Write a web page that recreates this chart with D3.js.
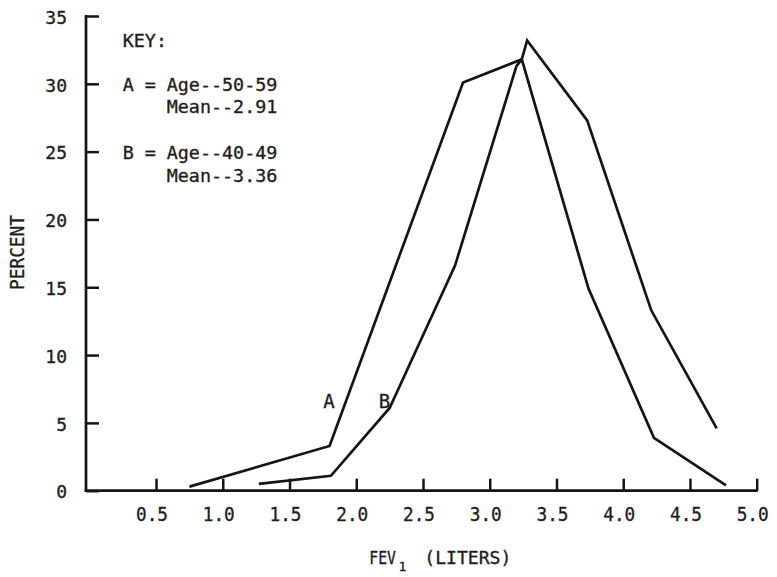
<!DOCTYPE html>
<html>
<head>
<meta charset="utf-8">
<script src="https://cdn.jsdelivr.net/npm/d3@7"></script>
<style>
  html, body { margin: 0; padding: 0; background: #ffffff; }
  svg { display: block; }
  text { fill: #1e1e1e; stroke: #1e1e1e; stroke-width: 0.35px; font-family: "DejaVu Sans Mono", monospace; }
</style>
</head>
<body>
<svg id="chart" width="777" height="577"></svg>
<script>
// FEV1 distribution by age group
const xTicks = [0.5, 1.0, 1.5, 2.0, 2.5, 3.0, 3.5, 4.0, 4.5, 5.0];
const yTicks = [0, 5, 10, 15, 20, 25, 30, 35];

// Curve A: Age 50-59
const fevA = [0.75, 1.8, 2.8, 3.24, 3.74, 4.23, 4.77];
const pctA = [0.3, 3.3, 30.1, 31.8, 14.9, 3.9, 0.4];

// Curve B: Age 40-49
const fevB = [1.27, 1.81, 2.25, 2.74, 3.2, 3.24, 3.28, 3.73, 4.21, 4.7];
const pctB = [0.5, 1.1, 6.1, 16.6, 31.3, 31.8, 33.2, 27.3, 13.3, 4.6];

const keyLines = [
  { tag: "KEY:", text: "" },
  { tag: "A = ", text: "Age--50-59" },
  { tag: "", text: "Mean--2.91" },
  { tag: "B = ", text: "Age--40-49" },
  { tag: "", text: "Mean--3.36" }
];

const svg = d3.select("#chart");
const ink = "#151515";

const x = d3.scaleLinear().domain([0, 5]).range([89.3, 756.7]);
const y = d3.scaleLinear().domain([0, 35]).range([490.7, 16]);
const axisX = 86;

// Axis frame lines
svg.append("line")
  .attr("x1", axisX).attr("x2", axisX)
  .attr("y1", y(35) - 1).attr("y2", y(0) + 1.3)
  .attr("stroke", ink).attr("stroke-width", 2.7);
svg.append("line")
  .attr("x1", axisX - 1.3).attr("x2", x(5) + 1)
  .attr("y1", y(0)).attr("y2", y(0))
  .attr("stroke", ink).attr("stroke-width", 2.7);

// Y axis ticks pointing inward
const gy = svg.append("g")
  .attr("transform", `translate(${axisX},0)`)
  .call(d3.axisLeft(y).tickValues(yTicks).tickSize(-13).tickPadding(19).tickFormat(d3.format("d")));
gy.select(".domain").remove();
gy.selectAll(".tick line").attr("stroke", ink).attr("stroke-width", 2.5);
gy.selectAll(".tick text")
  .attr("font-size", 18).attr("font-family", "DejaVu Sans Mono, monospace")
  .attr("fill", "#1e1e1e").attr("dy", "0.4em");

// X axis ticks pointing upward
const gx = svg.append("g")
  .attr("transform", `translate(0,${y(0)})`)
  .call(d3.axisBottom(x).tickValues(xTicks).tickSize(-12).tickPadding(16).tickFormat(d3.format(".1f")));
gx.select(".domain").remove();
gx.selectAll(".tick line").attr("stroke", ink).attr("stroke-width", 2.5);
gx.selectAll(".tick text")
  .attr("font-size", 20).attr("font-family", "DejaVu Sans Mono, monospace")
  .attr("fill", "#1e1e1e")
  .attr("x", -4.5)
  .attr("textLength", 32).attr("lengthAdjust", "spacingAndGlyphs");

// Curves
const line = d3.line().x(d => x(d[0])).y(d => y(d[1]));
const seriesA = fevA.map((v, i) => [v, pctA[i]]);
const seriesB = fevB.map((v, i) => [v, pctB[i]]);
[seriesA, seriesB].forEach(s => {
  svg.append("path")
    .datum(s)
    .attr("d", line)
    .attr("fill", "none")
    .attr("stroke", ink)
    .attr("stroke-width", 2.7)
    .attr("stroke-linejoin", "miter");
});

// Curve labels
svg.append("text").attr("x", 329).attr("y", 407.5)
  .attr("text-anchor", "middle").attr("font-size", 19).text("A");
svg.append("text").attr("x", 384.5).attr("y", 407.5)
  .attr("text-anchor", "middle").attr("font-size", 19).text("B");

// Key block
const keyY = [46.7, 91, 113.3, 159.3, 181.7];
keyLines.forEach((k, i) => {
  if (k.tag) {
    svg.append("text").attr("x", 122.7).attr("y", keyY[i])
      .attr("font-size", 18.4).attr("xml:space", "preserve").text(k.tag);
  }
  if (k.text) {
    svg.append("text").attr("x", 166.7).attr("y", keyY[i])
      .attr("font-size", 18.4).text(k.text);
  }
});

// Y axis title
svg.append("text")
  .attr("transform", "translate(24,252.5) rotate(-90)")
  .attr("text-anchor", "middle")
  .attr("font-family", "Liberation Sans Narrow, DejaVu Sans Condensed, sans-serif")
  .attr("font-size", 20)
  .attr("textLength", 75).attr("lengthAdjust", "spacingAndGlyphs")
  .text("PERCENT");

// X axis title with subscript
svg.append("text")
  .attr("transform", "translate(369.3,564.3) scale(0.82,1)")
  .attr("font-size", 18)
  .text("FEV");
svg.append("text").attr("x", 398.6).attr("y", 571)
  .attr("font-size", 13).text("1");
svg.append("text").attr("x", 424.3).attr("y", 564.3)
  .attr("font-size", 18).attr("textLength", 87).attr("lengthAdjust", "spacingAndGlyphs")
  .text("(LITERS)");
</script>
</body>
</html>
